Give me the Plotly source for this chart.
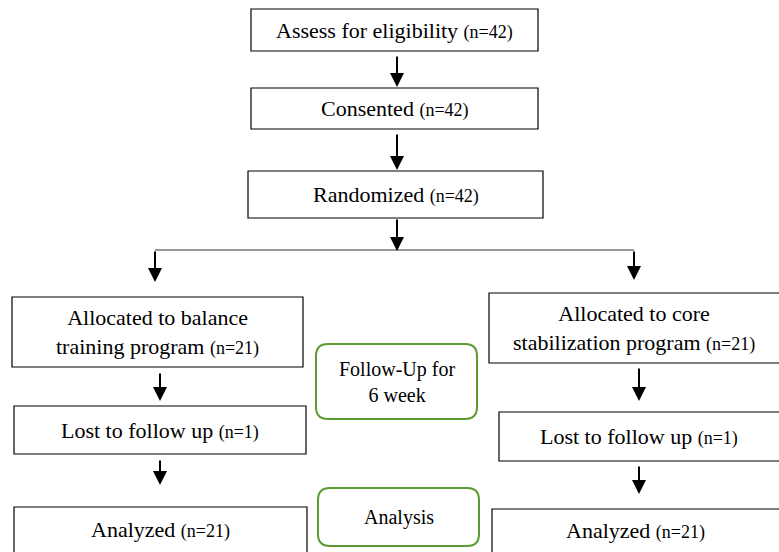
import plotly.graph_objects as go

# ---- content ----
box_labels = [
    "Assess for eligibility", "Consented", "Randomized",
    "Allocated to balance<br>training program", "Lost to follow up", "Analyzed",
    "Allocated to core<br>stabilization program", "Lost to follow up", "Analyzed",
]
box_counts = [42, 42, 42, 21, 1, 21, 21, 1, 21]
phase_labels = ["Follow-Up for<br>6 week", "Analysis"]

# ---- layout geometry (pixels) ----
box_x0 = [251, 251, 248, 12, 14, 14, 489, 499, 492]
box_x1 = [538, 538, 543, 303, 306, 307, 783, 783, 783]
box_y0 = [9, 88, 171, 297, 406, 507, 293, 412, 509]
box_y1 = [51, 129, 218, 367, 454, 554, 363, 461, 554]

phase_x0 = [316, 318]
phase_x1 = [477, 479]
phase_y0 = [344, 488]
phase_y1 = [419, 546]

# arrows: (x, y_tail, y_tip)
arrows = [
    (397, 55, 87), (397, 133, 170), (397, 218, 251),
    (155, 250, 282), (634, 250, 280),
    (160, 372, 401), (160, 459, 485),
    (639, 367, 401), (639, 465, 494),
]

W, H = 779, 552
fig = go.Figure()
fig.add_trace(go.Scatter(x=[0, W], y=[0, H], mode="markers",
                         marker=dict(opacity=0), hoverinfo="skip", showlegend=False))

shapes = []
annotations = []
FONT = "Liberation Serif, Times New Roman, serif"

for lab, n, x0, x1, y0, y1 in zip(box_labels, box_counts, box_x0, box_x1, box_y0, box_y1):
    shapes.append(dict(type="rect", x0=x0, x1=x1, y0=y0, y1=y1,
                       line=dict(color="black", width=1.2), fillcolor="white", layer="below"))
    txt = f"{lab} <span style='font-size:18px'>(n={n})</span>"
    annotations.append(dict(x=(x0 + min(x1, W)) / 2, y=(y0 + min(y1, H)) / 2,
                            text=txt, showarrow=False,
                            font=dict(family=FONT, size=22, color="black"),
                            xanchor="center", yanchor="middle"))

def rounded(x0, y0, x1, y1, r):
    return (f"M {x0+r},{y0} L {x1-r},{y0} Q {x1},{y0} {x1},{y0+r} "
            f"L {x1},{y1-r} Q {x1},{y1} {x1-r},{y1} L {x0+r},{y1} "
            f"Q {x0},{y1} {x0},{y1-r} L {x0},{y0+r} Q {x0},{y0} {x0+r},{y0} Z")

for lab, x0, x1, y0, y1 in zip(phase_labels, phase_x0, phase_x1, phase_y0, phase_y1):
    shapes.append(dict(type="path", path=rounded(x0, y0, x1, y1, 12),
                       line=dict(color="#5b9b32", width=2), fillcolor="white", layer="below"))
    annotations.append(dict(x=(x0 + x1) / 2, y=(y0 + y1) / 2, text=lab, showarrow=False,
                            font=dict(family=FONT, size=20, color="black"),
                            xanchor="center", yanchor="middle"))

# horizontal branch line
shapes.append(dict(type="line", x0=155, x1=634, y0=250, y1=250,
                   line=dict(color="#333333", width=1.2)))

for x, yt, yp in arrows:
    annotations.append(dict(x=x, y=yp, ax=x, ay=yt, xref="x", yref="y",
                            axref="x", ayref="y", showarrow=True, text="",
                            arrowhead=2, arrowsize=1.4, arrowwidth=2, arrowcolor="black"))

fig.update_layout(
    width=W, height=H, margin=dict(l=0, r=0, t=0, b=0),
    paper_bgcolor="white", plot_bgcolor="white",
    xaxis=dict(range=[0, W], visible=False, fixedrange=True),
    yaxis=dict(range=[H, 0], visible=False, fixedrange=True),
    shapes=shapes, annotations=annotations, showlegend=False,
)
fig.write_html("out.html", config={"displayModeBar": False},
               post_script="document.body.style.margin='0';document.body.style.overflow='hidden';")
